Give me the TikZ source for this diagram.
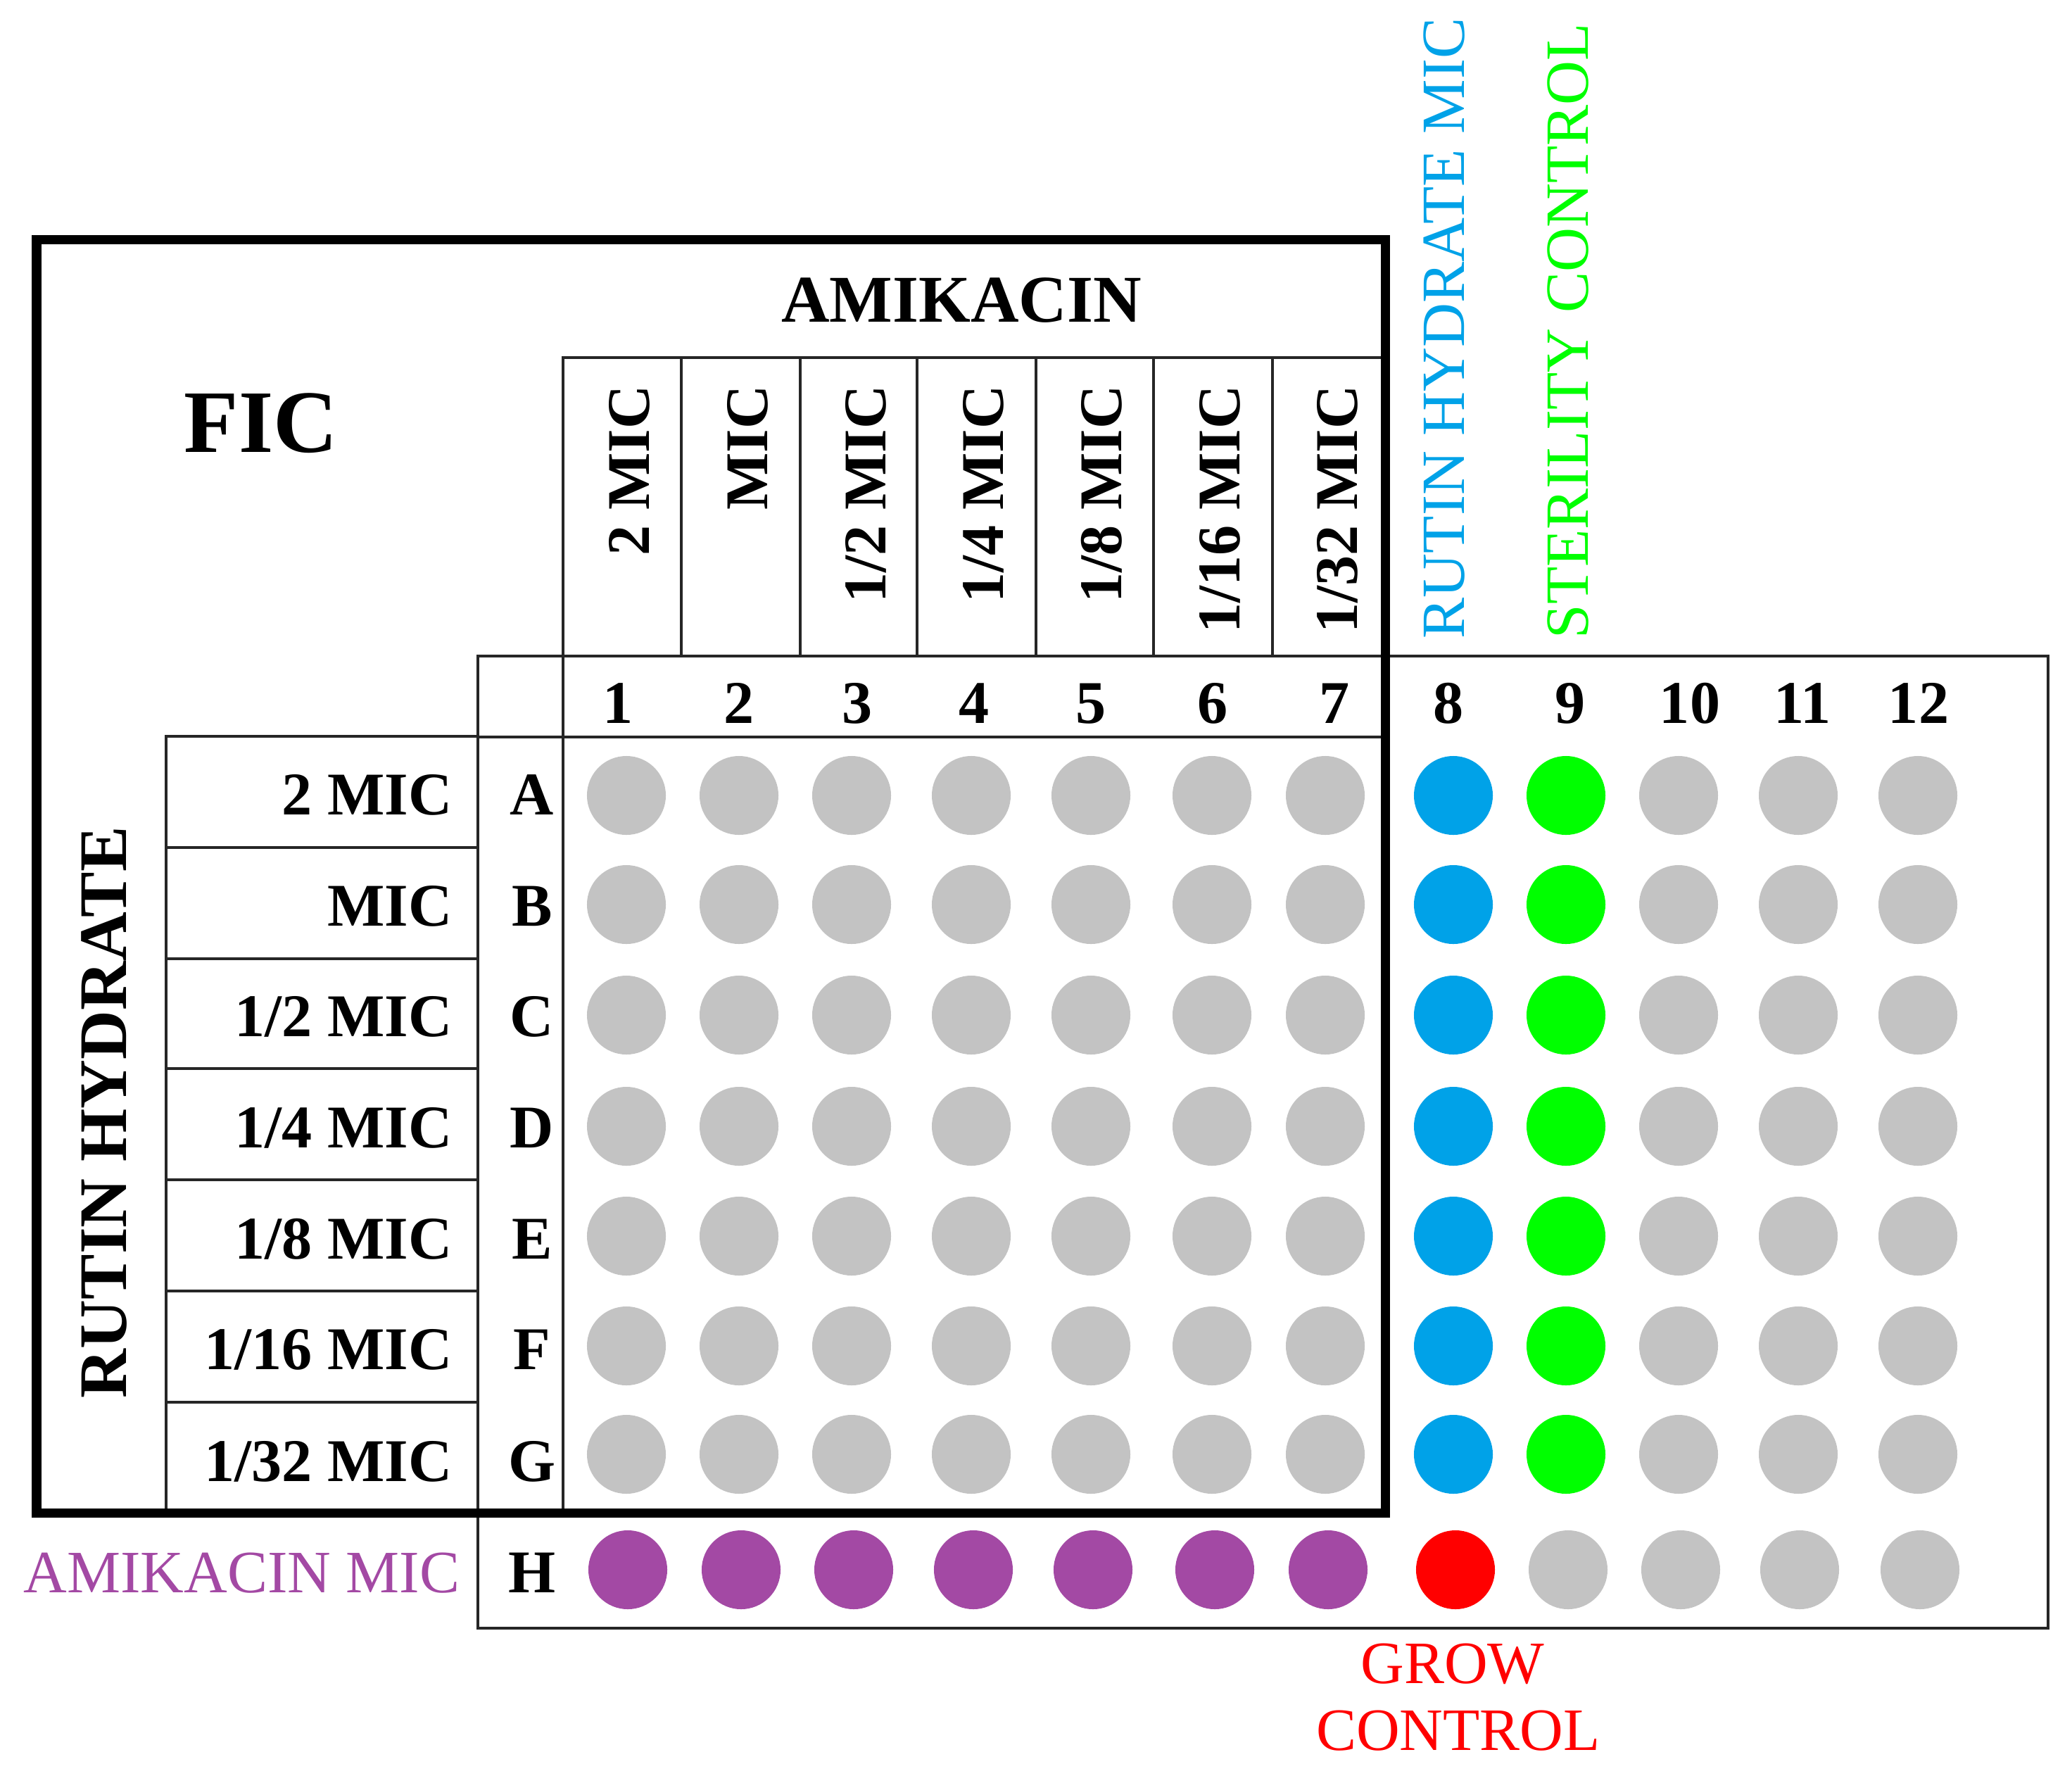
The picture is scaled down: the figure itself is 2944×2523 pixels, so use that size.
\documentclass[tikz,border=0pt]{standalone}
\usepackage{fontspec}
\setmainfont{Liberation Serif}
\definecolor{wellgray}{HTML}{C3C3C3}
\definecolor{wellblue}{HTML}{00A2E8}
\definecolor{wellgreen}{HTML}{00FF00}
\definecolor{wellred}{HTML}{FF0000}
\definecolor{wellpurple}{HTML}{A349A4}
\begin{document}
\begin{tikzpicture}[x=0.01cm,y=-0.01cm,
  thinline/.style={draw=black!85, line width=1.35pt},
  thickline/.style={draw=black, line width=3.7pt},
  well/.style={circle, inner sep=0pt, minimum size=1.12cm, fill=#1},
  lbl/.style={font=\fontsize{24.5}{29}\selectfont\bfseries, inner sep=0pt},
  side/.style={font=\fontsize{24.3}{28}\selectfont, inner sep=0pt},
  vside/.style={font=\fontsize{24.8}{28}\selectfont, inner sep=0pt}]
\useasboundingbox (0,0) rectangle (2944,2523);

% plate outline
\draw[thinline] (679,932) rectangle (2910,2313);
% column header box
\draw[thinline] (800,932) -- (800,508) -- (1968,508);
\foreach \xx in {968,1137,1303,1472,1639,1808}
  \draw[thinline] (\xx,508) -- (\xx,932);
% number row bottom line and letter column line
\draw[thinline] (679,1047) -- (1968,1047);
\draw[thinline] (800,932) -- (800,2149);
% row label box
\draw[thinline] (679,1046) -- (236,1046) -- (236,2149);
\foreach \yy in {1204,1362,1518,1676,1834,1992}
  \draw[thinline] (236,\yy) -- (679,\yy);

% thick FIC box
\draw[thickline] (52,340) rectangle (1968,2149);

% titles
\node[font=\fontsize{36}{40}\selectfont\bfseries, inner sep=0pt, anchor=base] (fic) at (371,642) {FIC};
\node[font=\fontsize{27}{31}\selectfont\bfseries, inner sep=0pt, anchor=base] (amik) at (1366,457) {AMIKACIN};
\node[font=\fontsize{27.5}{31}\selectfont\bfseries, inner sep=0pt, anchor=base, rotate=90] (rutin) at (179,1580) {RUTIN HYDRATE};

% column header concentrations
\node[lbl, rotate=90, anchor=base east] (hc1) at (922,547) {2 MIC};
\node[lbl, rotate=90, anchor=base east] (hc2) at (1090,547) {MIC};
\node[lbl, rotate=90, anchor=base east] (hc3) at (1258,547) {1/2 MIC};
\node[lbl, rotate=90, anchor=base east] (hc4) at (1425,547) {1/4 MIC};
\node[lbl, rotate=90, anchor=base east] (hc5) at (1593,547) {1/8 MIC};
\node[lbl, rotate=90, anchor=base east] (hc6) at (1761,547) {1/16 MIC};
\node[lbl, rotate=90, anchor=base east] (hc7) at (1928,547) {1/32 MIC};

% coloured column labels
\node[vside, text=wellblue, rotate=90, anchor=base west] (rmic) at (2080,908) {RUTIN HYDRATE MIC};
\node[vside, text=wellgreen, rotate=90, anchor=base west] (ster) at (2256,908) {STERILITY CONTROL};

% column numbers
\foreach \n/\xx in {1/878,2/1050,3/1218,4/1384,5/1550,6/1723,7/1896,8/2058,9/2231,10/2401,11/2561,12/2726}
  \node[lbl, anchor=base] (num\n) at (\xx,1027) {\n};

% row concentrations
\node[lbl, anchor=base east] (rc1) at (643,1157) {2 MIC};
\node[lbl, anchor=base east] (rc2) at (643,1315) {MIC};
\node[lbl, anchor=base east] (rc3) at (643,1472) {1/2 MIC};
\node[lbl, anchor=base east] (rc4) at (643,1630) {1/4 MIC};
\node[lbl, anchor=base east] (rc5) at (643,1788) {1/8 MIC};
\node[lbl, anchor=base east] (rc6) at (643,1945) {1/16 MIC};
\node[lbl, anchor=base east] (rc7) at (643,2104) {1/32 MIC};

% row letters
\foreach \r/\yy in {A/1157,B/1315,C/1472,D/1630,E/1788,F/1945,G/2104,H/2262}
  \node[lbl, anchor=base] (row\r) at (756,\yy) {\r};

% wells rows A-G
\foreach \c/\xx/\col in {1/890/wellgray,2/1050/wellgray,3/1210/wellgray,4/1380/wellgray,5/1550/wellgray,6/1722/wellgray,7/1883/wellgray,8/2065/wellblue,9/2225/wellgreen,10/2385/wellgray,11/2555/wellgray,12/2725/wellgray}
  \foreach \r/\yy in {A/1130,B/1285,C/1442,D/1600,E/1756,F/1912,G/2066}
    \node[well=\col] (w\r\c) at (\xx,\yy) {};
% wells row H
\foreach \c/\xx/\col in {1/892/wellpurple,2/1053/wellpurple,3/1213/wellpurple,4/1383/wellpurple,5/1553/wellpurple,6/1726/wellpurple,7/1887/wellpurple,8/2068/wellred,9/2228/wellgray,10/2388/wellgray,11/2557/wellgray,12/2728/wellgray}
  \node[well=\col] (wH\c) at (\xx,2230) {};

% bottom labels
\node[side, text=wellpurple, anchor=base east] (amic) at (654,2262) {AMIKACIN MIC};
\node[side, text=wellred, anchor=base] (grow1) at (2064,2391) {GROW};
\node[side, text=wellred, anchor=base] (grow2) at (2072,2486) {CONTROL};
\end{tikzpicture}
\end{document}
